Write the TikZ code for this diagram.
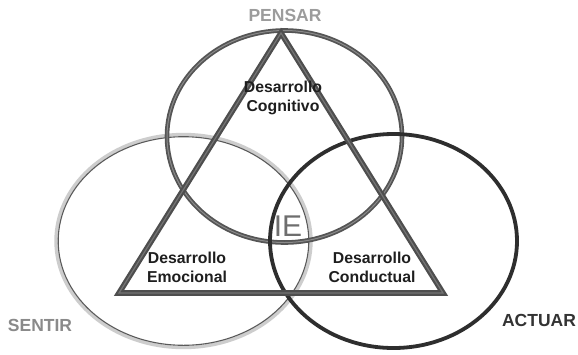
\documentclass[tikz,border=0pt]{standalone}
\usepackage{fontspec}
\setmainfont{Liberation Sans}
\definecolor{ringtop}{HTML}{555555}
\definecolor{ringtopin}{HTML}{8A8A8A}
\definecolor{ringleft}{HTML}{CDCDCD}
\definecolor{ringleftin}{HTML}{5A5A5A}
\definecolor{ringright}{HTML}{2E2E2E}
\definecolor{tri}{HTML}{4E4E4E}
\definecolor{triin}{HTML}{747474}
\definecolor{pensarc}{HTML}{9C9C9C}
\definecolor{sentirc}{HTML}{8A8A8A}
\definecolor{actuarc}{HTML}{333333}
\definecolor{iec}{HTML}{6E6E6E}
\definecolor{txt}{HTML}{1E1E1E}
\tikzset{
  toprng/.style={draw=ringtop, line width=1.8pt, double=ringtopin, double distance=1pt},
  leftrngout/.style={draw=ringleft, line width=3.4pt},
  leftrngin/.style={draw=ringleftin, line width=1.1pt},
  rightrng/.style={draw=ringright, line width=3.8pt},
  trisides/.style={draw=tri, line width=2.2pt, double=triin, double distance=1.2pt, line join=miter},
  inner/.style={font=\fontsize{15.8}{19}\selectfont\bfseries, text=txt, align=center, inner sep=0pt},
  outer/.style={font=\fontsize{17.5}{20}\selectfont\bfseries, inner sep=0pt},
}
\begin{document}
\begin{tikzpicture}[x=1pt,y=-1pt]
\useasboundingbox (0,0) rectangle (578,354);
\fill[white] (0,0) rectangle (578,354);
% rings
\coordinate (cl) at (183.5,241);
\coordinate (ct) at (284.5,136.5);
\coordinate (cr) at (393.5,241);
\draw[leftrngout] (cl) ellipse [x radius=127.5, y radius=106.5];
\draw[leftrngin] (cl) ellipse [x radius=125.3, y radius=104.3];
\draw[toprng] (ct) ellipse [x radius=117.5, y radius=106];
\draw[rightrng] (cr) ellipse [x radius=123.5, y radius=107];
% triangle
\coordinate (apex) at (281,33);
\coordinate (bl) at (119,293);
\coordinate (br) at (443,293);
\draw[trisides] (apex) -- (bl) -- (br) -- cycle;
% labels
\node[outer, text=pensarc] (pensar) at (285,15) {PENSAR};
\node[outer, text=sentirc] (sentir) at (40,325) {SENTIR};
\node[outer, text=actuarc] (actuar) at (539,320) {ACTUAR};
\node[inner] (cog) at (283,98) {Desarrollo\\Cognitivo};
\node[inner] (emo) at (187,267) {Desarrollo\\Emocional};
\node[inner] (con) at (372,267) {Desarrollo\\Conductual};
\node[font=\fontsize{30}{32}\selectfont, text=iec, inner sep=0pt] (ie) at (288,226) {IE};
\end{tikzpicture}
\end{document}
